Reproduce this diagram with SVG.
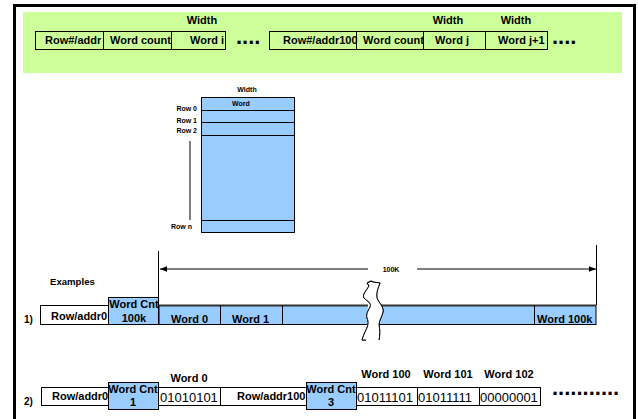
<svg xmlns="http://www.w3.org/2000/svg" width="638" height="419" viewBox="0 0 638 419">
<defs>
<style>
.b{font-family:"Liberation Sans",Arial,sans-serif;font-weight:bold;fill:#000}
.r{font-family:"Liberation Sans",Arial,sans-serif;fill:#000}
.box{fill:#fff;stroke:#000;stroke-width:1}
.nof{fill:none;stroke:#000;stroke-width:1}
.blue{fill:#99CCFF;stroke:#000;stroke-width:1}
.ln{stroke:#000;stroke-width:1;fill:none}
</style>
<marker id="ah" viewBox="0 0 10 10" refX="10" refY="5" markerWidth="7" markerHeight="7" orient="auto-start-reverse" markerUnits="userSpaceOnUse">
<path d="M0,1 L10,5 L0,9 Z" fill="#000"/>
</marker>
</defs>
<rect width="638" height="419" fill="#fff"/>
<rect x="14.5" y="5.5" width="620" height="430" fill="none" stroke="#000" stroke-width="3"/>

<g id="format">
<rect x="23" y="12" width="599" height="61" fill="#CCFF99"/>
<text class="b" x="202" y="24" font-size="11" text-anchor="middle">Width</text>
<text class="b" x="448" y="24" font-size="11" text-anchor="middle">Width</text>
<text class="b" x="516" y="24" font-size="11" text-anchor="middle">Width</text>
<rect class="nof" x="35.5" y="31.5" width="68" height="18"/>
<rect class="nof" x="103.5" y="31.5" width="68" height="18"/>
<rect class="nof" x="171.5" y="31.5" width="54" height="18"/>
<rect class="nof" x="269.5" y="31.5" width="87" height="18"/>
<rect class="nof" x="356.5" y="31.5" width="67" height="18"/>
<rect class="nof" x="423.5" y="31.5" width="62" height="18"/>
<rect class="nof" x="485.5" y="31.5" width="62" height="18"/>
<text class="b" x="45" y="44" font-size="11">Row#/addr</text>
<text class="b" x="110" y="44" font-size="11">Word count</text>
<text class="b" x="190" y="44" font-size="11">Word i</text>
<text class="b" x="236" y="43.5" font-size="22">....</text>
<text class="b" x="283" y="44" font-size="11">Row#/addr100</text>
<text class="b" x="363" y="44" font-size="11">Word count</text>
<text class="b" x="435" y="44" font-size="11">Word j</text>
<text class="b" x="498" y="44" font-size="11">Word j+1</text>
<text class="b" x="552" y="43.5" font-size="22">....</text>
</g>

<g id="array">
<text class="b" x="247" y="92" font-size="7" text-anchor="middle">Width</text>
<rect class="blue" x="201.5" y="97.5" width="93" height="135"/>
<line class="ln" x1="201.5" y1="110.5" x2="294.5" y2="110.5"/>
<line class="ln" x1="201.5" y1="122.5" x2="294.5" y2="122.5"/>
<line class="ln" x1="201.5" y1="135.5" x2="294.5" y2="135.5"/>
<line class="ln" x1="201.5" y1="220.5" x2="294.5" y2="220.5"/>
<text class="b" x="241" y="106" font-size="7" text-anchor="middle">Word</text>
<text class="b" x="197" y="111" font-size="7" text-anchor="end">Row 0</text>
<text class="b" x="197" y="123" font-size="7" text-anchor="end">Row 1</text>
<text class="b" x="197" y="133" font-size="7" text-anchor="end">Row 2</text>
<text class="b" x="192" y="229" font-size="7" text-anchor="end">Row n</text>
<line class="ln" x1="190" y1="141" x2="190" y2="220"/>
</g>

<g id="labels">
<text class="b" x="50" y="285" font-size="9.6">Examples</text>
<text class="b" x="24" y="323" font-size="10">1)</text>
<text class="b" x="24" y="405" font-size="10">2)</text>
</g>

<g id="connectors">
<line class="ln" x1="158.5" y1="251" x2="158.5" y2="297"/>
<line class="ln" x1="596.5" y1="245" x2="596.5" y2="305"/>
<line class="ln" x1="368" y1="269" x2="160" y2="269" marker-end="url(#ah)"/>
<line class="ln" x1="417" y1="269" x2="596" y2="269" marker-end="url(#ah)"/>
<text class="b" x="391" y="272" font-size="7" text-anchor="middle">100K</text>
</g>

<g id="example1">
<rect class="box" x="40.5" y="305.5" width="68" height="19"/>
<text class="b" x="51" y="320" font-size="11">Row/addr0</text>
<rect class="blue" x="159" y="305.5" width="437" height="19" stroke="#333"/>
<line x1="159" y1="305.5" x2="596" y2="305.5" stroke="#333" stroke-width="2"/>
<line class="ln" x1="220.5" y1="305.5" x2="220.5" y2="324.5"/>
<line class="ln" x1="282.5" y1="305.5" x2="282.5" y2="324.5"/>
<line class="ln" x1="534.5" y1="305.5" x2="534.5" y2="324.5"/>
<rect class="blue" x="108.5" y="297.5" width="50" height="27"/>
<text class="b" x="134" y="308" font-size="11" text-anchor="middle">Word Cnt</text>
<text class="b" x="134" y="322" font-size="11" text-anchor="middle">100k</text>
<text class="b" x="171" y="323" font-size="11">Word 0</text>
<text class="b" x="232" y="323" font-size="11">Word 1</text>
<text class="b" x="537" y="323" font-size="11">Word 100k</text>
<path d="M369,286 C366,291 362,295 364,298 C367,301 372,303 370,307 C368,311 366,314 367,318 C369,322 368,326 366,330 C364,334 363,337 362,340 L366,340 M369,286 L367,283 L371,281 L373,282 L380,283 C378,288 376,293 377,298 C379,303 384,307 383,312 C382,317 379,320 379,325 C380,330 380,335 379,340" fill="#fff" stroke="#000" stroke-width="1"/>
<path d="M369,286 C366,291 362,295 364,298 C367,301 372,303 370,307 C368,311 366,314 367,318 C369,322 368,326 366,330 C364,334 363,337 362,340 L379,340 C380,335 380,330 379,325 C379,320 382,317 383,312 C384,307 379,303 377,298 C376,293 378,288 380,283 L373,282 Z" fill="#fff" stroke="none"/>
<path d="M369,286 C366,291 362,295 364,298 C367,301 372,303 370,307 C368,311 366,314 367,318 C369,322 368,326 366,330 C364,334 363,337 362,340 L366,340 M369,286 L367,283 L371,281 L373,282 L380,283 C378,288 376,293 377,298 C379,303 384,307 383,312 C382,317 379,320 379,325 C380,330 380,335 379,340" fill="none" stroke="#000" stroke-width="1"/>
</g>

<g id="example2">
<rect class="box" x="41.5" y="387.5" width="67" height="18"/>
<text class="b" x="52" y="400" font-size="11">Row/addr0</text>
<rect class="blue" x="108.5" y="382.5" width="50" height="27"/>
<text class="b" x="133" y="393" font-size="11" text-anchor="middle">Word Cnt</text>
<text class="b" x="133" y="406" font-size="11" text-anchor="middle">1</text>
<rect class="box" x="158.5" y="387.5" width="62" height="18"/>
<text class="r" x="160" y="402" font-size="13">01010101</text>
<text class="b" x="189" y="382" font-size="11" text-anchor="middle">Word 0</text>
<rect class="box" x="220.5" y="387.5" width="86" height="18"/>
<text class="b" x="237" y="400" font-size="11">Row/addr100</text>
<rect class="blue" x="306.5" y="382.5" width="50" height="27"/>
<text class="b" x="331" y="393" font-size="11" text-anchor="middle">Word Cnt</text>
<text class="b" x="331" y="406" font-size="11" text-anchor="middle">3</text>
<rect class="box" x="356.5" y="387.5" width="61" height="18"/>
<rect class="box" x="417.5" y="387.5" width="62" height="18"/>
<rect class="box" x="479.5" y="387.5" width="61" height="18"/>
<text class="r" x="357" y="402" font-size="13">01011101</text>
<text class="r" x="418" y="402" font-size="13">01011111</text>
<text class="r" x="480" y="402" font-size="13">00000001</text>
<text class="b" x="386" y="378" font-size="11" text-anchor="middle">Word 100</text>
<text class="b" x="448" y="378" font-size="11" text-anchor="middle">Word 101</text>
<text class="b" x="509" y="378" font-size="11" text-anchor="middle">Word 102</text>
<text class="b" x="552" y="395" font-size="22">...........</text>
</g>
</svg>
